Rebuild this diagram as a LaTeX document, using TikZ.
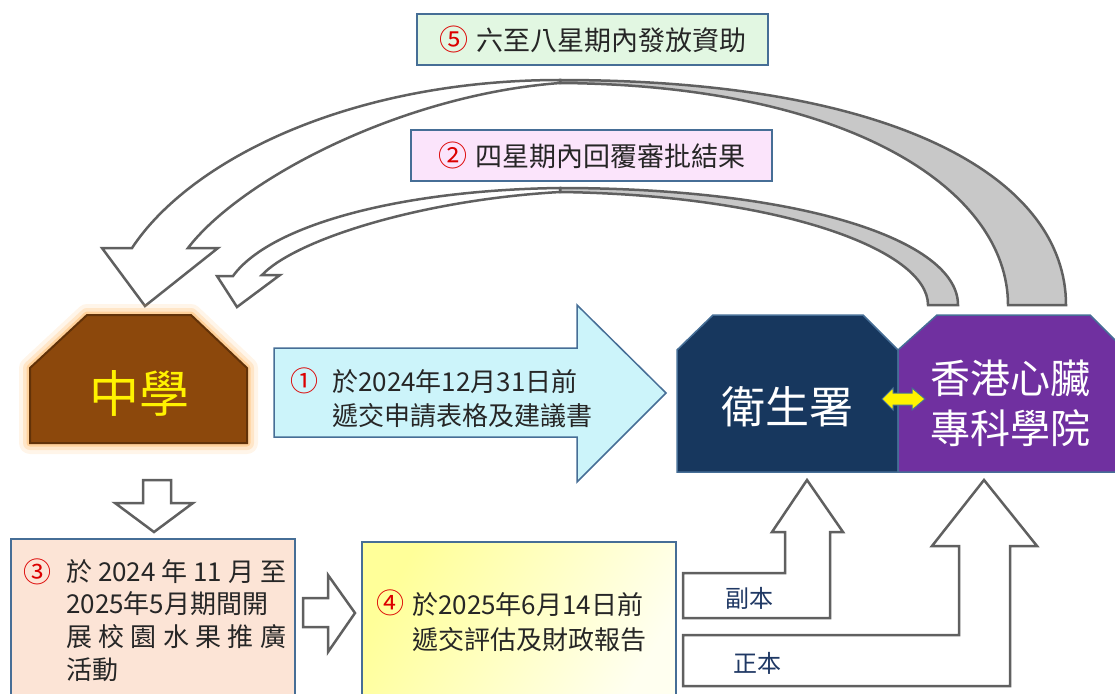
\documentclass[tikz,border=0pt]{standalone}
\usepackage{fontspec}
\setmainfont{Noto Sans CJK TC}
\usetikzlibrary{positioning}

\definecolor{arrgray}{RGB}{96,96,96}
\definecolor{backgray}{RGB}{200,200,200}
\definecolor{numred}{RGB}{220,0,0}
\definecolor{boxblue}{RGB}{70,110,150}
\definecolor{greenbox}{RGB}{226,247,226}
\definecolor{pinkbox}{RGB}{251,228,251}
\definecolor{cyanarr}{RGB}{204,244,250}
\definecolor{schoolbrown}{RGB}{140,72,12}
\definecolor{glow}{RGB}{255,170,70}
\definecolor{dhnavy}{RGB}{23,55,94}
\definecolor{hkpurple}{RGB}{112,48,160}
\definecolor{peachbox}{RGB}{252,228,214}
\definecolor{copynavy}{RGB}{31,56,100}

\tikzset{
  outl/.style={draw=arrgray, line width=2.5pt, fill=white},
  backside/.style={draw=arrgray, line width=2.5pt, fill=backgray},
  txt/.style={inner sep=0pt, anchor=west, font=\fontsize{26}{30}\selectfont, text=black!85},
  num/.style={inner sep=0pt, font=\fontsize{28}{30}\selectfont, text=numred},
  notebox/.style={draw=boxblue, line width=1.5pt, minimum width=351pt, minimum height=51pt,
    font=\fontsize{27}{30}\selectfont, text=black!85},
  bigname/.style={inner sep=0pt, text=white, font=\fontsize{40}{40}\selectfont},
  copytag/.style={inner sep=0pt, text=copynavy, font=\fontsize{24}{24}\selectfont},
}

\begin{document}
\begin{tikzpicture}[x=1pt,y=-1pt]
\useasboundingbox (0,0) rectangle (1115,693);

% step 5 arrow, back then front
\draw[backside] (560,80) .. controls (900,80) and (1066,180) .. (1066,305) -- (1008,305)
  .. controls (1008,190) and (850,85) .. (560,83) -- cycle;
\draw[outl] (132,248) -- (102,248) -- (145,306) -- (218,248) -- (188,248)
  .. controls (240,180) and (400,95) .. (560,83) -- (560,80)
  .. controls (350,80) and (190,160) .. (132,248) -- cycle;

% step 2 arrow
\draw[backside] (560,188) .. controls (800,188) and (958,240) .. (958,305) -- (928,305)
  .. controls (928,250) and (780,195) .. (560,192) -- cycle;
\draw[outl] (233,276) -- (217,276) -- (237,307) -- (280,275) -- (262,275)
  .. controls (295,240) and (420,200) .. (560,192) -- (560,188)
  .. controls (400,190) and (270,225) .. (233,276) -- cycle;

\node[notebox, fill=greenbox] (stepfive) at (592.5,39.5) {{\fontsize{29}{30}\selectfont\textcolor{numred}{⑤}}\hspace{8pt}六至八星期內發放資助};
\node[notebox, fill=pinkbox, minimum width=361pt] (steptwo) at (591.5,155.5) {{\fontsize{29}{30}\selectfont\textcolor{numred}{②}}\hspace{8pt}四星期內回覆審批結果};

% school
\foreach \w/\o in {22/0.12,14/0.2,7/0.35}
  \draw[glow, opacity=\o, line width=\w pt, line join=round] (30,368) -- (87,315) -- (191,315) -- (247,368) -- (247,443) -- (30,443) -- cycle;
\draw[fill=schoolbrown, draw=schoolbrown!70!black, line width=2pt] (30,368) -- (87,315) -- (191,315) -- (247,368) -- (247,443) -- (30,443) -- cycle;
\node[inner sep=0pt, text=yellow, font=\fontsize{50}{50}\selectfont] (school) at (139,393) {中學};

% step 1
\draw[draw=boxblue, line width=1.5pt, fill=cyanarr] (274,348) -- (577,348) -- (577,305) -- (666,393) -- (577,482) -- (577,437) -- (274,437) -- cycle;
\node[num] (numone) at (304,381) {①};
\node[txt] (stepone) at (332,382) {於2024年12月31日前};
\node[txt] (steponeb) at (332,416) {遞交申請表格及建議書};

% DH and college
\draw[fill=dhnavy, draw=boxblue, line width=1.5pt] (677,350) -- (713,315) -- (863,315) -- (898,350) -- (898,472) -- (677,472) -- cycle;
\draw[fill=hkpurple, draw=boxblue, line width=1.5pt] (898,350) -- (937,315) -- (1090,315) -- (1125,350) -- (1125,472) -- (898,472) -- cycle;
\node[bigname, font=\fontsize{44}{44}\selectfont] (dh) at (787,407) {衛生署};
\node[bigname] (college) at (1010,378) {香港心臟};
\node[bigname] (collegeb) at (1010,428) {專科學院};
\draw[fill=yellow, draw=boxblue, line width=1pt] (882,399) -- (893,388) -- (893,393) -- (912,393) -- (912,388) -- (925,399) -- (912,410) -- (912,405) -- (893,405) -- (893,410) -- cycle;

% step 3
\draw[outl] (143,480) -- (171,480) -- (171,503) -- (193,503) -- (154,532) -- (115,503) -- (143,503) -- cycle;
\draw[fill=peachbox, draw=boxblue, line width=2pt] (11,539) rectangle (295,705);
\node[num] (numthree) at (37,572) {③};
\node[txt] (stepthree) at (66,572) {\makebox[220pt][s]{於 2024 年 11 月 至}};
\node[txt] (stepthreeb) at (66,604) {2025年5月期間開};
\node[txt] (stepthreec) at (66,637) {\makebox[220pt][s]{展\hfill 校\hfill 園\hfill 水\hfill 果\hfill 推\hfill 廣}};
\node[txt] (stepthreed) at (66,670) {活動};

% step 4
\draw[outl] (303,598) -- (328,598) -- (328,575) -- (355,613) -- (328,652) -- (328,627) -- (303,627) -- cycle;
\draw[left color=yellow!40, right color=yellow!6, shading angle=60, draw=boxblue, line width=2pt] (362,542) rectangle (676,705);
\node[num] (numfour) at (390,603) {④};
\node[txt] (stepfour) at (412,605) {於2025年6月14日前};
\node[txt] (stepfourb) at (412,640) {遞交評估及財政報告};

% copies
\draw[outl] (683,573) -- (785,573) -- (785,532) -- (772,532) -- (807,480) -- (843,532) -- (830,532) -- (830,618) -- (683,618) -- cycle;
\draw[outl] (683,635) -- (959,635) -- (959,546) -- (932,546) -- (984,480) -- (1037,546) -- (1010,546) -- (1010,686) -- (683,686) -- cycle;
\node[copytag] (copy) at (749,598) {副本};
\node[copytag] (original) at (757,663) {正本};
\end{tikzpicture}
\end{document}
